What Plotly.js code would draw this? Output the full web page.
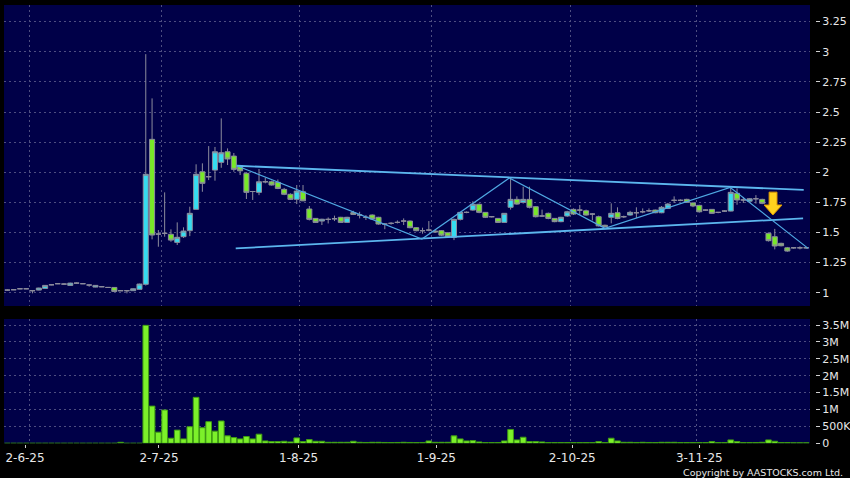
<!DOCTYPE html>
<html>
<head>
<meta charset="utf-8">
<script src="https://cdn.plot.ly/plotly-3.0.1.min.js"></script>
<style>html,body{margin:0;padding:0;background:#000;}#chart{width:850px;height:478px;}</style>
</head>
<body>
<div id="chart"></div>
<script>
// Trading days (HK), 27 May 2025 - 26 Nov 2025
const dates = [
 "2025-05-27","2025-05-28","2025-05-29","2025-05-30",
 "2025-06-02","2025-06-03","2025-06-04","2025-06-05","2025-06-06","2025-06-09","2025-06-10","2025-06-11","2025-06-12","2025-06-13",
 "2025-06-16","2025-06-17","2025-06-18","2025-06-19","2025-06-20","2025-06-23","2025-06-24","2025-06-25","2025-06-26","2025-06-27","2025-06-30",
 "2025-07-02","2025-07-03","2025-07-04","2025-07-07","2025-07-08","2025-07-09","2025-07-10","2025-07-11","2025-07-14","2025-07-15","2025-07-16",
 "2025-07-17","2025-07-18","2025-07-21","2025-07-22","2025-07-23","2025-07-24","2025-07-25","2025-07-28","2025-07-29","2025-07-30","2025-07-31",
 "2025-08-01","2025-08-04","2025-08-05","2025-08-06","2025-08-07","2025-08-08","2025-08-11","2025-08-12","2025-08-13","2025-08-14","2025-08-15",
 "2025-08-18","2025-08-19","2025-08-20","2025-08-21","2025-08-22","2025-08-25","2025-08-26","2025-08-27","2025-08-28","2025-08-29",
 "2025-09-01","2025-09-02","2025-09-03","2025-09-04","2025-09-05","2025-09-08","2025-09-09","2025-09-10","2025-09-11","2025-09-12","2025-09-15",
 "2025-09-16","2025-09-17","2025-09-18","2025-09-19","2025-09-22","2025-09-23","2025-09-24","2025-09-25","2025-09-26","2025-09-29","2025-09-30",
 "2025-10-02","2025-10-03","2025-10-06","2025-10-08","2025-10-09","2025-10-10","2025-10-13","2025-10-14","2025-10-15","2025-10-16","2025-10-17",
 "2025-10-20","2025-10-21","2025-10-22","2025-10-23","2025-10-24","2025-10-27","2025-10-28","2025-10-30","2025-10-31",
 "2025-11-03","2025-11-04","2025-11-05","2025-11-06","2025-11-07","2025-11-10","2025-11-11","2025-11-12","2025-11-13","2025-11-14",
 "2025-11-17","2025-11-18","2025-11-19","2025-11-20","2025-11-21","2025-11-24","2025-11-25","2025-11-26"
];

const open = [
 1.022,1.025,1.033,1.033,1.017,1.022,1.036,1.066,1.075,1.072,1.061,1.080,1.075,1.064,1.047,1.050,1.044,1.044,1.017,1.017,
 1.017,1.028,1.070,2.273,1.487,1.493,1.485,1.418,1.465,1.515,1.692,2.004,1.963,2.018,2.082,2.170,2.134,2.054,1.991,1.840,
 1.833,1.921,1.921,1.916,1.858,1.817,1.775,1.838,1.695,1.617,1.595,1.609,1.614,1.626,1.584,1.665,1.645,1.626,1.645,1.626,
 1.570,1.576,1.584,1.595,1.595,1.540,1.515,1.520,1.512,1.515,1.498,1.460,1.609,1.667,1.686,1.734,1.667,1.631,1.617,1.584,
 1.709,1.775,1.750,1.775,1.714,1.637,1.659,1.617,1.590,1.637,1.692,1.686,1.680,1.653,1.631,1.560,1.626,1.664,1.631,1.645,
 1.664,1.672,1.680,1.686,1.664,1.700,1.767,1.767,1.775,1.745,1.725,1.686,1.692,1.667,1.678,1.678,1.825,1.770,1.760,1.780,
 1.775,1.493,1.465,1.410,1.373,1.373,1.373,1.373
];
const high = [
 1.027,1.028,1.036,1.036,1.020,1.042,1.064,1.070,1.078,1.078,1.083,1.085,1.078,1.067,1.064,1.053,1.047,1.047,1.020,1.020,
 1.036,1.075,2.980,2.613,1.520,1.833,1.526,1.584,1.543,1.714,2.066,2.074,2.217,2.210,2.447,2.198,2.160,2.060,2.000,1.845,
 2.027,1.954,1.930,1.940,1.870,1.825,1.894,1.894,1.720,1.620,1.614,1.625,1.640,1.630,1.630,1.680,1.672,1.645,1.650,1.630,
 1.575,1.585,1.600,1.617,1.600,1.545,1.540,1.595,1.520,1.520,1.500,1.615,1.670,1.675,1.760,1.740,1.670,1.635,1.620,1.660,
 1.949,1.800,1.880,1.880,1.720,1.690,1.665,1.620,1.630,1.680,1.700,1.728,1.690,1.660,1.640,1.565,1.742,1.709,1.640,1.680,
 1.709,1.700,1.700,1.690,1.720,1.745,1.800,1.775,1.780,1.750,1.730,1.690,1.695,1.670,1.685,1.870,1.866,1.795,1.785,1.810,
 1.780,1.500,1.530,1.415,1.380,1.378,1.385,1.380
];
const low = [
 1.017,1.022,1.030,1.030,0.995,1.020,1.034,1.062,1.072,1.066,1.060,1.075,1.072,1.050,1.045,1.047,1.040,1.011,1.014,0.995,
 1.015,1.025,1.060,1.443,1.382,1.465,1.423,1.396,1.455,1.470,1.692,1.838,1.935,1.930,2.037,2.060,2.004,1.977,1.778,1.770,
 1.810,1.908,1.890,1.860,1.810,1.770,1.736,1.760,1.600,1.580,1.562,1.575,1.595,1.580,1.580,1.645,1.617,1.604,1.605,1.565,
 1.527,1.565,1.575,1.562,1.535,1.510,1.490,1.510,1.500,1.470,1.460,1.437,1.600,1.660,1.680,1.660,1.620,1.625,1.580,1.580,
 1.690,1.730,1.740,1.700,1.625,1.630,1.610,1.585,1.585,1.630,1.645,1.645,1.640,1.600,1.550,1.540,1.576,1.610,1.620,1.640,
 1.620,1.660,1.670,1.660,1.660,1.695,1.745,1.760,1.745,1.710,1.665,1.680,1.655,1.660,1.670,1.675,1.730,1.745,1.755,1.740,
 1.735,1.425,1.360,1.385,1.340,1.365,1.360,1.365
];
const close = [
 1.022,1.025,1.033,1.033,1.017,1.039,1.061,1.066,1.075,1.072,1.080,1.080,1.075,1.064,1.061,1.050,1.044,1.011,1.017,1.017,
 1.033,1.072,1.983,1.479,1.487,1.493,1.437,1.460,1.512,1.659,1.983,1.908,1.963,2.170,2.162,2.110,2.024,2.012,1.833,1.840,
 1.921,1.921,1.894,1.866,1.817,1.775,1.844,1.763,1.609,1.584,1.610,1.609,1.614,1.584,1.626,1.650,1.645,1.626,1.612,1.570,
 1.570,1.576,1.584,1.595,1.540,1.515,1.515,1.520,1.505,1.478,1.465,1.609,1.667,1.667,1.734,1.667,1.626,1.631,1.584,1.659,
 1.775,1.736,1.775,1.709,1.631,1.637,1.617,1.590,1.626,1.672,1.653,1.686,1.645,1.653,1.555,1.550,1.659,1.617,1.631,1.667,
 1.664,1.672,1.680,1.664,1.709,1.736,1.767,1.767,1.750,1.720,1.672,1.686,1.659,1.667,1.678,1.833,1.770,1.770,1.780,1.780,
 1.742,1.432,1.388,1.390,1.346,1.373,1.373,1.373
];
const volume = [
 0,0,0,0,0,0,0,0,0,0,0,0,0,0,0,0,0,0,30000,0,
 0,0,3490000,1100000,330000,985000,150000,390000,130000,490000,1360000,460000,640000,360000,660000,220000,170000,130000,200000,130000,
 270000,70000,50000,50000,60000,40000,160000,50000,110000,60000,60000,30000,30000,30000,30000,60000,30000,25000,30000,30000,
 25000,20000,25000,30000,25000,20000,25000,70000,30000,30000,30000,220000,130000,70000,80000,40000,20000,20000,20000,70000,
 410000,100000,180000,50000,50000,40000,20000,20000,20000,20000,20000,20000,20000,20000,50000,20000,150000,70000,30000,30000,
 25000,30000,25000,20000,30000,30000,30000,20000,20000,20000,20000,20000,50000,20000,20000,100000,50000,20000,20000,20000,
 30000,100000,60000,20000,20000,15000,15000,15000
];

// Axis ticks and labels
const xLabelText = ["2-6-25","2-7-25","1-8-25","1-9-25","2-10-25","3-11-25"];
const xLabelIdx = [2.8, 24.1, 46.3, 68.2, 89.8, 110.0];
const xGridIdx = [3.5, 24.5, 46.5, 67.5, 89.5, 109.5];
const priceTicks = [1, 1.25, 1.5, 1.75, 2, 2.25, 2.5, 2.75, 3, 3.25];
const priceTickText = ["1","1.25","1.5","1.75","2","2.25","2.5","2.75","3","3.25"];
const volTicks = [0, 500000, 1000000, 1500000, 2000000, 2500000, 3000000, 3500000];
const volTickText = ["0","500K","1M","1.5M","2M","2.5M","3M","3.5M"];

// Hand-drawn trend lines (bar index, price)
const upperLineX = [36.45, 126.6];
const upperLineY = [2.054, 1.853];
const lowerLineX = [36.3, 126.5];
const lowerLineY = [1.368, 1.617];
const zigzagX = [36.45, 65.9, 79.8, 95.0, 114.9, 127.3];
const zigzagY = [2.054, 1.446, 1.952, 1.534, 1.875, 1.368];
// Yellow down arrow outline (bar index, price)
const arrowX = [121.1, 122.35, 122.35, 123.15, 121.7, 120.3, 121.1, 121.1];
const arrowY = [1.835, 1.835, 1.728, 1.728, 1.645, 1.728, 1.728, 1.835];

const idx = dates.map((d, i) => i);

const gridColor = '#4d4d80';
const gridDash = '2px,3px';
const domX = [4/850, 810/850];
const xRange = [-0.54, 127.6];

const traces = [
  {
    type: 'candlestick', x: idx, open: open, high: high, low: low, close: close,
    xaxis: 'x', yaxis: 'y', text: dates, hoverinfo: 'skip',
    increasing: {fillcolor: '#35dcf0', line: {color: '#8c8c9c', width: 1}},
    decreasing: {fillcolor: '#78e828', line: {color: '#8c8c9c', width: 1}},
    whiskerwidth: 0
  },
  {type: 'scatter', mode: 'lines', x: upperLineX, y: upperLineY, xaxis: 'x', yaxis: 'y',
   line: {color: '#5cb6ee', width: 1.8}, hoverinfo: 'skip'},
  {type: 'scatter', mode: 'lines', x: lowerLineX, y: lowerLineY, xaxis: 'x', yaxis: 'y',
   line: {color: '#5cb6ee', width: 1.8}, hoverinfo: 'skip'},
  {type: 'scatter', mode: 'lines', x: zigzagX, y: zigzagY, xaxis: 'x', yaxis: 'y',
   line: {color: '#4fa8e2', width: 1.2}, hoverinfo: 'skip'},
  {type: 'scatter', mode: 'lines', x: arrowX, y: arrowY, xaxis: 'x', yaxis: 'y',
   fill: 'toself', fillcolor: '#ffd21e', line: {color: '#e09a00', width: 1}, hoverinfo: 'skip'},
  {
    type: 'bar', x: idx, y: volume, xaxis: 'x2', yaxis: 'y2', hoverinfo: 'skip',
    marker: {color: '#7cf02a', line: {color: '#3f9c12', width: 1}}
  }
];

const tickFont = {family: 'DejaVu Sans', size: 11, color: '#e8e8e8'};

const layout = {
  width: 850, height: 478,
  paper_bgcolor: '#000000', plot_bgcolor: '#000048',
  margin: {l: 0, r: 0, t: 0, b: 0, pad: 0},
  showlegend: false,
  boxgap: 0.2, boxgroupgap: 0, bargap: 0.1,
  font: {family: 'DejaVu Sans', size: 11, color: '#e8e8e8'},
  xaxis: {
    domain: domX, range: xRange, anchor: 'y', tickmode: 'array', tickvals: xGridIdx,
    showticklabels: false, ticks: '', showgrid: true, gridcolor: gridColor, griddash: gridDash,
    gridwidth: 1, zeroline: false, showline: false, rangeslider: {visible: false}, fixedrange: true
  },
  yaxis: {
    domain: [172/478, 473/478], range: [0.89, 3.388], anchor: 'free', position: 815/850, side: 'right',
    tickmode: 'array', tickvals: priceTicks, ticktext: priceTickText, ticks: 'outside', ticklen: 4,
    tickcolor: '#d0d0d0', tickfont: tickFont, showgrid: true, gridcolor: gridColor, griddash: gridDash,
    zeroline: false, showline: false, fixedrange: true
  },
  xaxis2: {
    domain: domX, range: xRange, anchor: 'free', position: 34/478,
    tickmode: 'array', tickvals: xLabelIdx, ticktext: xLabelText, ticks: 'outside', ticklen: 3,
    tickcolor: '#d0d0d0', tickfont: {family: 'DejaVu Sans', size: 12, color: '#e8e8e8'},
    showgrid: false, zeroline: false, showline: false, fixedrange: true,
    minor: {tickmode: 'array', tickvals: xGridIdx, showgrid: true, gridcolor: gridColor, griddash: gridDash, ticks: ''}
  },
  yaxis2: {
    domain: [34.7/478, 159/478], range: [0, 3678000], anchor: 'free', position: 815/850, side: 'right',
    tickmode: 'array', tickvals: volTicks, ticktext: volTickText, ticks: 'outside', ticklen: 4,
    tickcolor: '#d0d0d0', tickfont: tickFont, showgrid: true, gridcolor: gridColor, griddash: gridDash,
    zeroline: false, showline: false, fixedrange: true
  },
  annotations: [{
    text: 'Copyright by AASTOCKS.com Ltd.', xref: 'paper', yref: 'paper',
    x: 845/850, y: 6/478, xanchor: 'right', yanchor: 'middle', showarrow: false,
    font: {family: 'DejaVu Sans', size: 9.5, color: '#e8e8e8'}
  }]
};

Plotly.newPlot('chart', traces, layout, {staticPlot: true, displayModeBar: false});
</script>
</body>
</html>
